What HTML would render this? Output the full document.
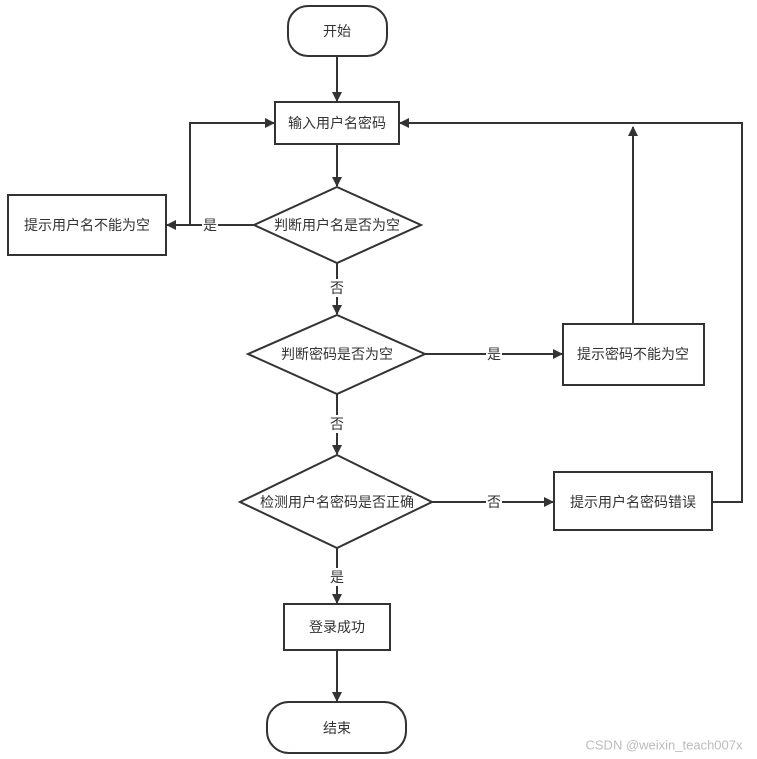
<!DOCTYPE html>
<html><head><meta charset="utf-8"><style>
html,body{margin:0;padding:0;background:#fff;}
svg{display:block;}
text{font-family:"Liberation Sans","Noto Sans CJK SC",sans-serif;font-size:14px;fill:#333;}
</style></head><body>
<svg width="757" height="759" viewBox="0 0 757 759" xmlns="http://www.w3.org/2000/svg">
<defs>
<marker id="a" markerWidth="10" markerHeight="10" refX="9" refY="5" orient="auto" markerUnits="userSpaceOnUse" viewBox="0 0 10 10">
<path d="M0,0 L10,5 L0,10 z" fill="#333"/>
</marker>
</defs>
<g stroke="#333" stroke-width="2" fill="#fff">
<rect x="288" y="6" width="99" height="50" rx="20"/>
<rect x="275" y="102" width="124" height="42"/>
<polygon points="337,187 421,225 337,263 254,225"/>
<rect x="8" y="195" width="158" height="60"/>
<polygon points="337,315 425,354 337,394 248,354"/>
<rect x="563" y="324" width="141" height="61"/>
<polygon points="337,455 432,502 337,548 240,502"/>
<rect x="554" y="472" width="158" height="58"/>
<rect x="284" y="604" width="106" height="46"/>
<rect x="267" y="702" width="139" height="51" rx="22"/>
</g>
<g stroke="#333" stroke-width="2" fill="none">
<line x1="337" y1="56" x2="337" y2="101" marker-end="url(#a)"/>
<line x1="337" y1="144" x2="337" y2="186" marker-end="url(#a)"/>
<line x1="254" y1="225" x2="167" y2="225" marker-end="url(#a)"/>
<polyline points="190,225 190,123 274,123" marker-end="url(#a)"/>
<line x1="337" y1="263" x2="337" y2="314" marker-end="url(#a)"/>
<line x1="425" y1="354" x2="562" y2="354" marker-end="url(#a)"/>
<line x1="633" y1="324" x2="633" y2="127" marker-end="url(#a)"/>
<line x1="337" y1="394" x2="337" y2="454" marker-end="url(#a)"/>
<line x1="432" y1="502" x2="553" y2="502" marker-end="url(#a)"/>
<polyline points="712,502 742,502 742,123 400,123" marker-end="url(#a)"/>
<line x1="337" y1="548" x2="337" y2="603" marker-end="url(#a)"/>
<line x1="337" y1="650" x2="337" y2="701" marker-end="url(#a)"/>
</g>
<g fill="#fff">
<rect x="202" y="216" width="16" height="18"/>
<rect x="329" y="279" width="16" height="18"/>
<rect x="486" y="345" width="16" height="18"/>
<rect x="329" y="415" width="16" height="18"/>
<rect x="486" y="493" width="16" height="18"/>
<rect x="329" y="568" width="16" height="18"/>
</g>
<g text-anchor="middle" dominant-baseline="central">
<text x="337" y="31">开始</text>
<text x="337" y="123">输入用户名密码</text>
<text x="337" y="225">判断用户名是否为空</text>
<text x="87" y="225">提示用户名不能为空</text>
<text x="210" y="225">是</text>
<text x="337" y="288">否</text>
<text x="337" y="354">判断密码是否为空</text>
<text x="633" y="354">提示密码不能为空</text>
<text x="494" y="354">是</text>
<text x="337" y="424">否</text>
<text x="337" y="502">检测用户名密码是否正确</text>
<text x="633" y="502">提示用户名密码错误</text>
<text x="494" y="502">否</text>
<text x="337" y="577">是</text>
<text x="337" y="627">登录成功</text>
<text x="337" y="728">结束</text>
<text x="664" y="745" style="fill:#bbb;font-size:13px">CSDN @weixin_teach007x</text>
</g>
</svg>
</body></html>
